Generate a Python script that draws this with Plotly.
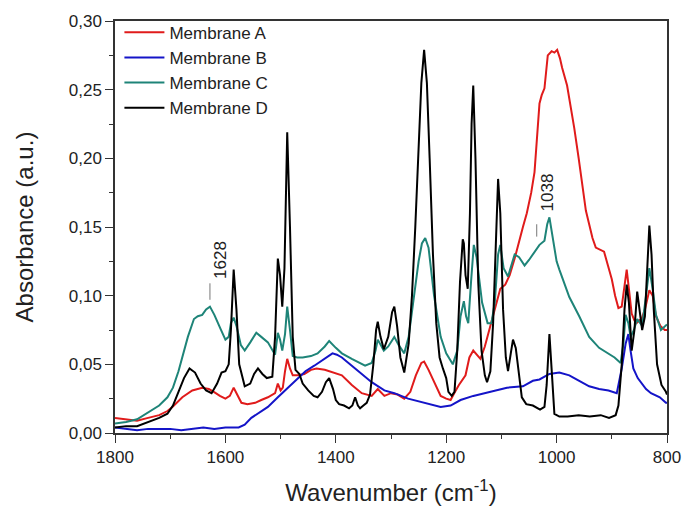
import plotly.graph_objects as go

# ---------------- data ----------------
series_names = ["Membrane A", "Membrane B", "Membrane C", "Membrane D"]

wn_A = [1800,1780,1760,1740,1720,1705,1696,1678,1660,1642,1630,1621,1610,1600,1592,1585,1578,1571,1560,1546,1535,1523,1510,1505,1500,1496,1492,1488,1483,1478,1468,1457,1445,1435,1420,1412,1400,1389,1371,1353,1335,1324,1312,1300,1288,1276,1265,1255,1245,1240,1232,1222,1210,1200,1192,1184,1177,1165,1158,1151,1144,1138,1130,1120,1110,1102,1093,1085,1076,1068,1061,1054,1046,1040,1036,1031,1027,1022,1016,1009,1004,999,994,990,981,975,968,960,954,947,941,935,929,920,914,907,900,894,888,882,877,873,869,864,859,855,850,846,840,832,826,820,812,804,800]
ab_A = [0.011,0.010,0.009,0.011,0.013,0.016,0.019,0.026,0.031,0.033,0.032,0.030,0.027,0.025,0.027,0.033,0.027,0.022,0.021,0.022,0.024,0.026,0.029,0.036,0.031,0.033,0.045,0.054,0.047,0.042,0.042,0.043,0.046,0.047,0.046,0.045,0.043,0.042,0.035,0.029,0.027,0.032,0.027,0.029,0.028,0.025,0.030,0.042,0.051,0.052,0.046,0.037,0.027,0.025,0.024,0.030,0.035,0.042,0.055,0.060,0.057,0.054,0.063,0.078,0.095,0.105,0.108,0.115,0.127,0.140,0.150,0.160,0.175,0.190,0.210,0.240,0.246,0.251,0.275,0.278,0.277,0.279,0.273,0.266,0.253,0.240,0.222,0.200,0.181,0.162,0.152,0.142,0.135,0.133,0.132,0.122,0.112,0.100,0.091,0.092,0.108,0.119,0.105,0.087,0.082,0.080,0.082,0.083,0.090,0.104,0.100,0.085,0.078,0.075,0.075]

wn_B = [1800,1780,1760,1740,1720,1700,1680,1660,1640,1620,1600,1576,1565,1553,1538,1523,1505,1487,1469,1455,1439,1425,1410,1406,1398,1389,1371,1353,1335,1312,1294,1269,1240,1210,1192,1174,1151,1120,1090,1061,1043,1031,1013,995,977,959,941,923,906,891,882,875,870,866,861,853,846,838,829,813,802,800]
ab_B = [0.004,0.003,0.002,0.003,0.003,0.003,0.002,0.003,0.004,0.003,0.004,0.004,0.006,0.011,0.015,0.019,0.026,0.033,0.040,0.045,0.049,0.053,0.057,0.058,0.057,0.055,0.049,0.043,0.037,0.031,0.029,0.025,0.022,0.019,0.020,0.024,0.027,0.030,0.033,0.034,0.038,0.039,0.043,0.044,0.042,0.038,0.034,0.032,0.031,0.029,0.047,0.065,0.072,0.060,0.047,0.040,0.036,0.032,0.029,0.026,0.022,0.022]

wn_C = [1800,1780,1760,1740,1720,1705,1695,1685,1678,1668,1657,1650,1642,1635,1628,1620,1609,1600,1594,1590,1585,1580,1572,1565,1555,1544,1535,1523,1510,1505,1501,1497,1492,1488,1483,1478,1470,1460,1445,1433,1420,1412,1400,1389,1371,1347,1335,1328,1324,1318,1313,1305,1299,1294,1286,1276,1268,1258,1250,1244,1238,1232,1222,1210,1200,1188,1180,1174,1168,1164,1160,1155,1150,1145,1135,1125,1118,1112,1106,1102,1096,1088,1082,1076,1068,1058,1050,1043,1031,1022,1017,1013,1008,1000,995,985,977,959,941,923,906,895,884,879,875,870,866,860,854,849,845,838,832,826,820,811,802,800]
ab_C = [0.007,0.008,0.010,0.015,0.020,0.026,0.033,0.045,0.055,0.070,0.083,0.085,0.086,0.090,0.092,0.086,0.076,0.068,0.070,0.080,0.084,0.078,0.064,0.060,0.066,0.073,0.070,0.066,0.057,0.073,0.068,0.060,0.072,0.092,0.075,0.056,0.055,0.055,0.056,0.058,0.063,0.067,0.062,0.058,0.054,0.049,0.051,0.060,0.068,0.063,0.060,0.063,0.067,0.070,0.064,0.058,0.070,0.100,0.125,0.138,0.142,0.135,0.100,0.070,0.058,0.050,0.060,0.085,0.096,0.085,0.080,0.110,0.137,0.128,0.095,0.080,0.080,0.095,0.130,0.137,0.120,0.114,0.122,0.130,0.128,0.122,0.126,0.130,0.137,0.140,0.152,0.157,0.145,0.125,0.119,0.108,0.099,0.085,0.070,0.062,0.058,0.055,0.051,0.065,0.086,0.080,0.070,0.075,0.083,0.080,0.078,0.100,0.120,0.105,0.086,0.075,0.078,0.079]

wn_D = [1800,1780,1760,1740,1720,1705,1695,1685,1675,1665,1655,1645,1635,1625,1615,1607,1600,1594,1590,1585,1580,1575,1565,1555,1548,1541,1533,1525,1515,1510,1505,1501,1497,1493,1488,1483,1478,1473,1466,1460,1450,1440,1433,1425,1418,1412,1405,1400,1394,1385,1376,1370,1365,1360,1356,1350,1344,1338,1332,1327,1324,1319,1313,1305,1298,1294,1289,1283,1276,1268,1262,1256,1250,1245,1240,1235,1230,1224,1218,1212,1206,1200,1196,1190,1185,1180,1175,1170,1168,1165,1161,1157,1154,1151,1147,1142,1136,1130,1126,1120,1115,1110,1106,1102,1097,1092,1088,1083,1079,1074,1069,1063,1055,1043,1030,1022,1018,1013,1008,1004,995,980,960,940,920,905,893,888,882,877,873,869,864,859,854,850,845,840,836,832,828,824,818,810,802,800]
ab_D = [0.004,0.005,0.005,0.008,0.011,0.014,0.020,0.030,0.040,0.047,0.044,0.036,0.031,0.029,0.036,0.044,0.045,0.050,0.075,0.119,0.090,0.050,0.034,0.036,0.043,0.047,0.043,0.040,0.041,0.070,0.127,0.115,0.092,0.120,0.219,0.150,0.070,0.046,0.043,0.036,0.031,0.027,0.026,0.030,0.037,0.040,0.032,0.024,0.021,0.020,0.018,0.020,0.026,0.020,0.018,0.020,0.022,0.028,0.050,0.075,0.081,0.070,0.061,0.070,0.088,0.092,0.078,0.055,0.044,0.065,0.100,0.150,0.210,0.255,0.279,0.255,0.200,0.130,0.080,0.055,0.047,0.040,0.030,0.027,0.030,0.060,0.110,0.141,0.138,0.115,0.105,0.160,0.225,0.253,0.200,0.110,0.060,0.042,0.037,0.045,0.080,0.140,0.185,0.160,0.090,0.055,0.045,0.058,0.068,0.062,0.045,0.026,0.021,0.020,0.017,0.019,0.035,0.072,0.040,0.014,0.012,0.012,0.013,0.012,0.013,0.011,0.013,0.020,0.050,0.090,0.108,0.095,0.060,0.075,0.103,0.090,0.075,0.085,0.120,0.151,0.130,0.090,0.050,0.035,0.030,0.028]

x_tick_vals = [1800, 1600, 1400, 1200, 1000, 800]
x_tick_text = ["1800", "1600", "1400", "1200", "1000", "800"]
y_tick_vals = [0.00, 0.05, 0.10, 0.15, 0.20, 0.25, 0.30]
y_tick_text = ["0,00", "0,05", "0,10", "0,15", "0,20", "0,25", "0,30"]

peak_labels = ["1628", "1038"]
peak_wn = [1628, 1036]
peak_mark_y = [(0.097, 0.109), (0.143, 0.152)]
peak_text_y = [0.126, 0.175]

# ---------------- style ----------------
colors = ["#e01b1b", "#1414c8", "#1e8478", "#000000"]
FONT = "Arial, Liberation Sans, sans-serif"

fig = go.Figure()
for name, xs, ys, c in zip(series_names, [wn_A, wn_B, wn_C, wn_D],
                           [ab_A, ab_B, ab_C, ab_D], colors):
    fig.add_trace(go.Scatter(x=xs, y=ys, mode="lines", name=name,
                             line=dict(color=c, width=2)))

for lab, wx, (y0, y1), ty in zip(peak_labels, peak_wn, peak_mark_y, peak_text_y):
    fig.add_shape(type="line", x0=wx, x1=wx, y0=y0, y1=y1, xref="x", yref="y",
                  line=dict(color="#777777", width=1))
    fig.add_annotation(x=wx, y=ty, text=lab, showarrow=False, textangle=-90,
                       xshift=11, font=dict(family=FONT, size=17, color="#222222"))

axis_common = dict(showline=True, linecolor="#333333", linewidth=1.5, mirror=True,
                   ticks="outside", ticklen=8, tickwidth=1.2, tickcolor="#333333",
                   showgrid=False, zeroline=False, ticklabeloverflow="allow",
                   tickfont=dict(family=FONT, size=17, color="#222222"),
                   minor=dict(ticks="outside", ticklen=4, tickwidth=1.2, tickcolor="#333333"))

fig.update_layout(
    width=693, height=515,
    margin=dict(l=115, r=19, t=16, b=82),
    paper_bgcolor="white", plot_bgcolor="white",
    font=dict(family=FONT, color="#222222"),
    showlegend=True,
    legend=dict(x=0.008, y=1.015, xanchor="left", yanchor="top",
                bgcolor="rgba(0,0,0,0)", font=dict(family=FONT, size=17, color="#222222"),
                itemwidth=40, tracegroupgap=0),
)
fig.update_xaxes(range=[1800, 800], tickmode="array", tickvals=x_tick_vals,
                 ticktext=x_tick_text,
                 title=dict(text="Wavenumber (cm<sup>-1</sup>)", standoff=18,
                            font=dict(family=FONT, size=24, color="#222222")),
                 **axis_common)
fig.update_xaxes(minor=dict(tickvals=[1700, 1500, 1300, 1100, 900]))
fig.update_yaxes(range=[0, 0.30], tickmode="array", tickvals=y_tick_vals,
                 ticktext=y_tick_text,
                 title=dict(text="Absorbance (a.u.)", standoff=28,
                            font=dict(family=FONT, size=24, color="#222222")),
                 **axis_common)
fig.update_yaxes(minor=dict(tickvals=[0.025, 0.075, 0.125, 0.175, 0.225, 0.275]))

fig.write_html("out.html")
